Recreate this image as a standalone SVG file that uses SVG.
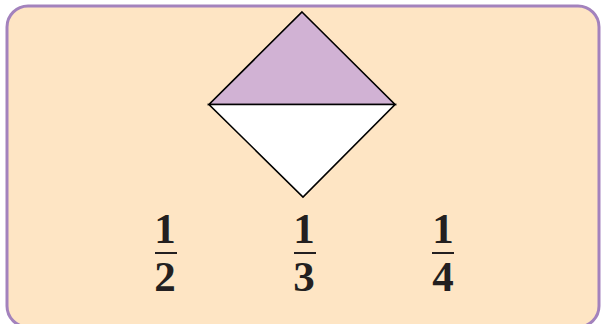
<svg xmlns="http://www.w3.org/2000/svg" width="601" height="324" viewBox="0 0 601 324">
<style>
.num{font-family:"Liberation Serif",serif;font-weight:bold;font-size:43px;fill:#231f20;text-anchor:middle}
.bar{stroke:#231f20;stroke-width:2}
.edge{stroke:#000;stroke-width:1.6;stroke-linejoin:miter}
</style>
<rect x="7" y="6" width="592" height="321" rx="21" ry="21" fill="#fee5c4" stroke="#a382bd" stroke-width="3"/>
<g id="diamond">
<polygon points="302,12 395,104.5 209,104.5" fill="#d1b2d4" class="edge"/>
<polygon points="209,104.5 395,104.5 303,197" fill="#ffffff" class="edge"/>
</g>
<g id="half">
<text class="num" x="165" y="243">1</text>
<line class="bar" x1="155" y1="253" x2="177" y2="253"/>
<text class="num" x="165" y="291">2</text>
</g>
<g id="third">
<text class="num" x="304" y="243">1</text>
<line class="bar" x1="294" y1="253" x2="316" y2="253"/>
<text class="num" x="304" y="291">3</text>
</g>
<g id="quarter">
<text class="num" x="443" y="243">1</text>
<line class="bar" x1="432" y1="253" x2="454" y2="253"/>
<text class="num" x="443" y="291">4</text>
</g>
</svg>
